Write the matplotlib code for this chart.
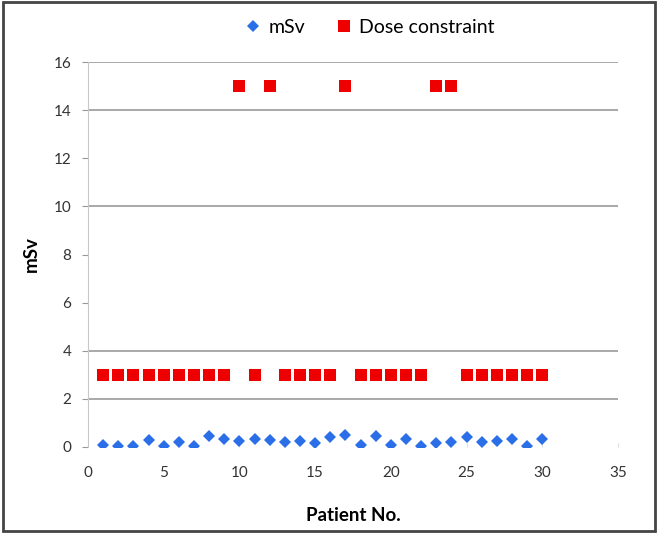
import matplotlib
matplotlib.use("Agg")
import matplotlib.pyplot as plt
from matplotlib.patches import Rectangle
from matplotlib.lines import Line2D

patients = list(range(1, 31))
msv = [0.1, 0.05, 0.05, 0.3, 0.05, 0.2, 0.05, 0.45, 0.35, 0.25,
       0.35, 0.3, 0.2, 0.25, 0.15, 0.4, 0.5, 0.1, 0.45, 0.1,
       0.35, 0.05, 0.15, 0.2, 0.4, 0.2, 0.25, 0.35, 0.05, 0.35]
dose_constraint = [3, 3, 3, 3, 3, 3, 3, 3, 3, 15,
                   3, 15, 3, 3, 3, 3, 15, 3, 3, 3,
                   3, 3, 15, 15, 3, 3, 3, 3, 3, 3]
yticks = [0, 2, 4, 6, 8, 10, 12, 14, 16]
xticks = [0, 5, 10, 15, 20, 25, 30, 35]
visible_grid = [2, 4, 10, 14, 16]

plt.rcParams['font.family'] = ['Lato', 'DejaVu Sans']

fig = plt.figure(figsize=(6.58, 5.33), dpi=100)
ax = fig.add_axes([88/658, 1-447/533, (618-88)/658, (447-62)/533])

ax.plot(patients, msv, linestyle='none', marker='D', markersize=6.5, markeredgewidth=0,
        color='#2a6fe8', label='mSv', zorder=3)
ax.plot(patients, dose_constraint, linestyle='none', marker='s', markersize=8.8, markeredgewidth=0,
        color='#ee0000', label='Dose constraint', zorder=3)

ax.set_xlim(0, 35)
ax.set_ylim(0, 16)
ax.set_yticks(yticks)
ax.set_xticks(xticks)
for v in visible_grid:
    ax.axhline(v, color='#999999', linewidth=1.2, zorder=1)

for s in ['top', 'right', 'bottom']:
    ax.spines[s].set_visible(False)
ax.spines['left'].set_color('#c8c8c8')
ax.tick_params(axis='y', length=4, color='#999999', labelsize=11, labelcolor='#333333', pad=8)
ax.tick_params(axis='x', length=3, color='#dddddd', labelsize=11, labelcolor='#333333', pad=14, direction='in')

ax.set_xlabel('Patient No.', fontsize=13.5, fontweight='bold', labelpad=19)
ax.set_ylabel('mSv', fontsize=13.5, fontweight='bold', labelpad=10)

handles = [Line2D([], [], linestyle='none', marker='D', markersize=6, markeredgewidth=0, color='#2a6fe8'),
           Line2D([], [], linestyle='none', marker='s', markersize=9, markeredgewidth=0, color='#ee0000')]
fig.legend(handles, ['mSv', 'Dose constraint'], loc='center', bbox_to_anchor=(369/658, 1-27/533),
           ncol=2, frameon=False, fontsize=14, handletextpad=0.3, handlelength=1.0,
           columnspacing=1.5)

fig.patches.append(Rectangle((0.004, 0.004), 0.992, 0.992, transform=fig.transFigure,
                             fill=False, edgecolor='#444444', linewidth=2))

fig.savefig('out.png', dpi=100)
